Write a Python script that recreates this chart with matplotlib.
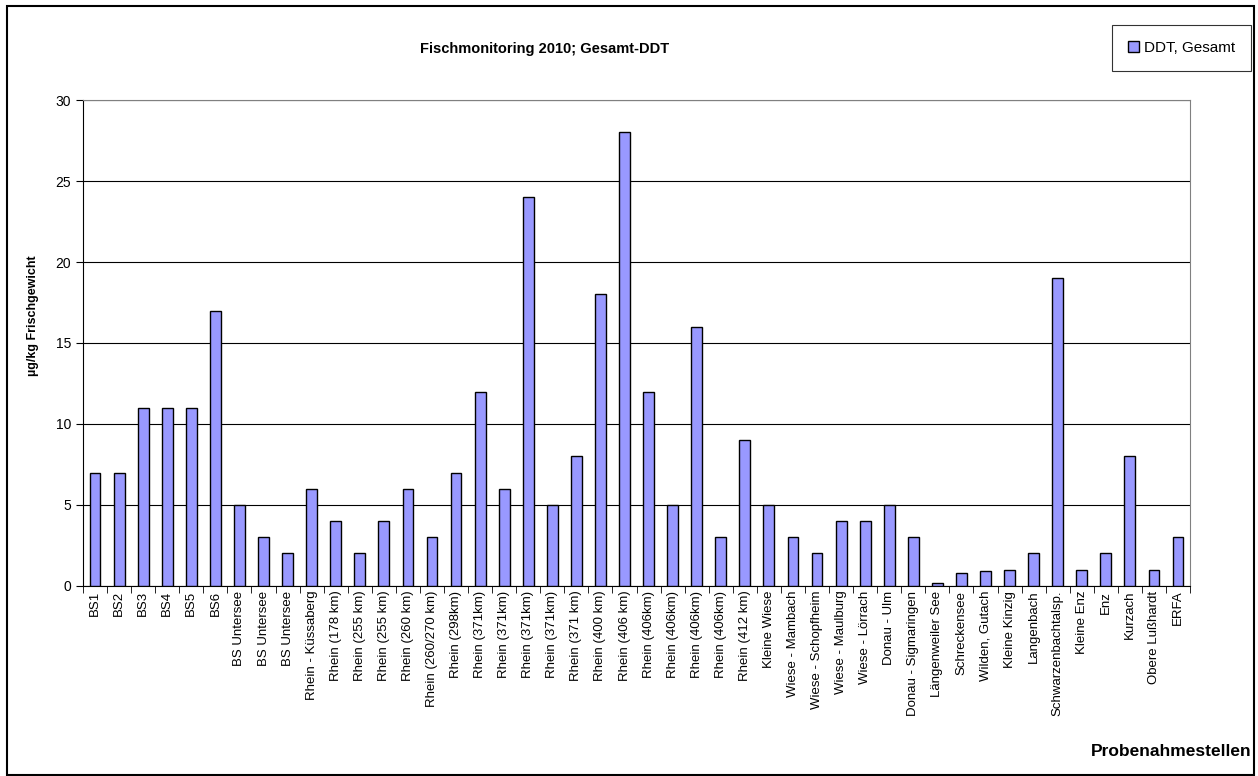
import matplotlib.pyplot as plt
import numpy as np

plt.rcParams['font.family'] = ['Liberation Sans', 'DejaVu Sans']

stellen = [
    "BS1", "BS2", "BS3", "BS4", "BS5", "BS6",
    "BS Untersee", "BS Untersee", "BS Untersee",
    "Rhein - Küssaberg", "Rhein (178 km)", "Rhein (255 km)", "Rhein (255 km)",
    "Rhein (260 km)", "Rhein (260/270 km)", "Rhein (298km)",
    "Rhein (371km)", "Rhein (371km)", "Rhein (371km)", "Rhein (371km)",
    "Rhein (371 km)", "Rhein (400 km)", "Rhein (406 km)",
    "Rhein (406km)", "Rhein (406km)", "Rhein (406km)", "Rhein (406km)",
    "Rhein (412 km)", "Kleine Wiese", "Wiese - Mambach", "Wiese - Schopfheim",
    "Wiese - Maulburg", "Wiese - Lörrach", "Donau - Ulm", "Donau - Sigmaringen",
    "Längenweiler See", "Schreckensee", "Wilden, Gutach", "Kleine Kinzig",
    "Langenbach", "Schwarzenbachtalsp.", "Kleine Enz", "Enz", "Kurzach",
    "Obere Lußhardt", "ERFA",
]
ddt_gesamt = [
    7, 7, 11, 11, 11, 17,
    5, 3, 2,
    6, 4, 2, 4,
    6, 3, 7,
    12, 6, 24, 5,
    8, 18, 28,
    12, 5, 16, 3,
    9, 5, 3, 2,
    4, 4, 5, 3,
    0.15, 0.8, 0.9, 1.0,
    2, 19, 1, 2, 8,
    1, 3,
]

fig = plt.figure(figsize=(12.58, 7.76), dpi=100)
ax = fig.add_axes([0.066, 0.245, 0.880, 0.626])

x = np.arange(len(stellen))
ax.bar(x, ddt_gesamt, width=0.45, color='#9999FF', edgecolor='black',
       linewidth=1.0, label='DDT, Gesamt', zorder=3)

ax.set_xlim(-0.5, len(stellen) - 0.5)
ax.set_ylim(0, 30)
ax.set_yticks(range(0, 31, 5))
ax.yaxis.grid(True, color='black', linewidth=0.8, zorder=0)
ax.set_axisbelow(True)

# category labels centred on bars, tick marks between categories
ax.set_xticks(x)
ax.set_xticklabels(stellen, rotation=90, fontsize=9.5)
ax.tick_params(axis='x', which='major', length=0)
ax.set_xticks(np.arange(-0.5, len(stellen), 1), minor=True)
ax.tick_params(axis='x', which='minor', length=5, direction='out', color='black')
ax.tick_params(axis='y', labelsize=10, length=5, direction='out')

for side in ['top', 'right']:
    ax.spines[side].set_color('#808080')
    ax.spines[side].set_linewidth(0.8)
ax.spines['left'].set_color('black')
ax.spines['bottom'].set_color('black')

fig.text(33 / 1258, 1 - 316 / 776, 'µg/kg Frischgewicht', rotation=90,
         ha='center', va='center', fontsize=9, fontweight='bold')
fig.text(0.433, 0.937, 'Fischmonitoring 2010; Gesamt-DDT', ha='center', va='center',
         fontsize=10.5, fontweight='bold')
fig.text(1251 / 1258, 1 - 752 / 776, 'Probenahmestellen', ha='right', va='center',
         fontsize=12.5, fontweight='bold')

leg = fig.legend(loc='upper right', bbox_to_anchor=(1251 / 1258, 1 - 25 / 776),
                 fontsize=11, frameon=True, fancybox=False, handlelength=0.75,
                 handleheight=0.7, handletextpad=0.3, borderpad=1.05,
                 borderaxespad=0)
leg.get_frame().set_edgecolor('black')
leg.get_frame().set_linewidth(0.8)

# outer border round the whole chart
fig.patches.append(plt.Rectangle((7 / 1258, 1 / 776), 1247 / 1258, 769 / 776,
                                 transform=fig.transFigure, fill=False,
                                 edgecolor='black', linewidth=1.5))

fig.savefig('out.png', dpi=100)
